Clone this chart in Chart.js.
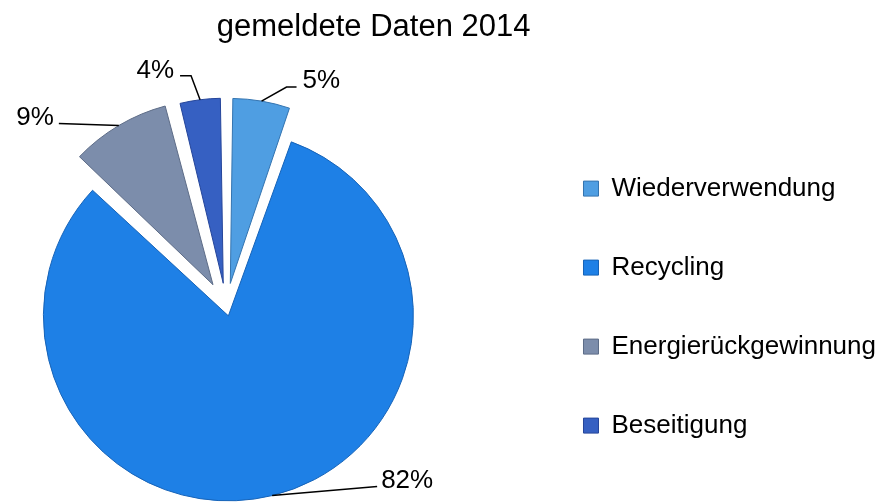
<!DOCTYPE html>
<html>
<head>
<meta charset="utf-8">
<script src="https://cdn.jsdelivr.net/npm/chart.js@4.4.1/dist/chart.umd.min.js"></script>
<style>
  body { margin: 0; background: #fff; overflow: hidden; }
  #wrap { width: 879px; height: 502px; overflow: hidden; }
  #pieChart { margin-left: -78px; display: block; }
</style>
</head>
<body>
<div id="wrap"><canvas id="pieChart" width="964" height="502"></canvas></div>
<script>
const categories = ['Wiederverwendung', 'Recycling', 'Energierückgewinnung', 'Beseitigung'];
const shares = [5.4, 81.6, 9.0, 4.0];
const chartTitle = 'gemeldete Daten 2014';

const sliceColors = ['#4f9ee2', '#1e80e6', '#7c8dab', '#3660c2'];
const edgeColors = ['#3474b0', '#1663b8', '#5d6c87', '#25459a'];
const explode = [96, 36, 104, 96];
const pieRadius = 185;
const fontFamily = '"Liberation Sans", Arial, sans-serif';

// where each percentage label sits, relative to the point on the slice edge
const labelPlace = [
  {elbow: [25, -14], end: [35, -14], text: [41, -20], align: 'left'},
  {elbow: [105, -9], end: [105, -9], text: [109, -15], align: 'left'},
  {elbow: [-60, -2], end: [-60, -2], text: [-65, -8], align: 'right'},
  {elbow: [-9, -24], end: [-20, -24], text: [-26, -29], align: 'right'}
];

// chart.js makes an offset arc a bit bigger, pull it back so all slices keep one radius
const keepRadius = {
  id: 'keepRadius',
  afterDatasetUpdate(chart, args) {
    args.meta.data.forEach(function(arc) {
      const push = (arc.options.offset || 0) / 4;
      const fix = 1 - Math.sin(Math.min(Math.PI, arc.circumference));
      arc.outerRadius = pieRadius - push * fix;
    });
  }
};

const sliceLabels = {
  id: 'sliceLabels',
  afterDatasetsDraw(chart) {
    const ctx = chart.ctx;
    const arcs = chart.getDatasetMeta(0).data;
    const data = chart.data.datasets[0].data;
    const total = data.reduce((a, b) => a + b, 0);
    ctx.save();
    ctx.strokeStyle = '#000';
    ctx.lineWidth = 1.5;
    ctx.fillStyle = '#000';
    ctx.font = '26px ' + fontFamily;
    ctx.textBaseline = 'middle';
    arcs.forEach(function(arc, i) {
      const mid = (arc.startAngle + arc.endAngle) / 2;
      const reach = (arc.options.offset || 0) / 4 + pieRadius;
      const ax = arc.x + Math.cos(mid) * reach;
      const ay = arc.y + Math.sin(mid) * reach;
      const p = labelPlace[i];
      ctx.beginPath();
      ctx.moveTo(ax, ay);
      ctx.lineTo(ax + p.elbow[0], ay + p.elbow[1]);
      ctx.lineTo(ax + p.end[0], ay + p.end[1]);
      ctx.stroke();
      ctx.textAlign = p.align;
      ctx.fillText(Math.round(data[i] / total * 100) + '%', ax + p.text[0], ay + p.text[1]);
    });
    ctx.restore();
  }
};

new Chart('pieChart', {
  type: 'pie',
  data: {
    labels: categories,
    datasets: [{
      data: shares,
      backgroundColor: sliceColors,
      borderColor: edgeColors,
      borderWidth: 1,
      offset: explode
    }]
  },
  options: {
    responsive: false,
    animation: false,
    devicePixelRatio: 1,
    radius: pieRadius,
    layout: {padding: {left: 0, right: 0, top: 0, bottom: 7}},
    plugins: {
      title: {
        display: true,
        text: chartTitle,
        align: 'end',
        fullSize: false,
        color: '#000',
        font: {size: 31, weight: 'normal', family: fontFamily},
        padding: {top: 9, bottom: 73}
      },
      legend: {
        position: 'right',
        align: 'start',
        fullSize: false,
        title: {display: true, text: '', font: {size: 2}, padding: {top: 1, bottom: 0}},
        labels: {
          boxWidth: 15,
          boxHeight: 15,
          padding: 53,
          color: '#000',
          font: {size: 26, family: fontFamily}
        }
      },
      tooltip: {enabled: false}
    }
  },
  plugins: [keepRadius, sliceLabels]
});
</script>
</body>
</html>
